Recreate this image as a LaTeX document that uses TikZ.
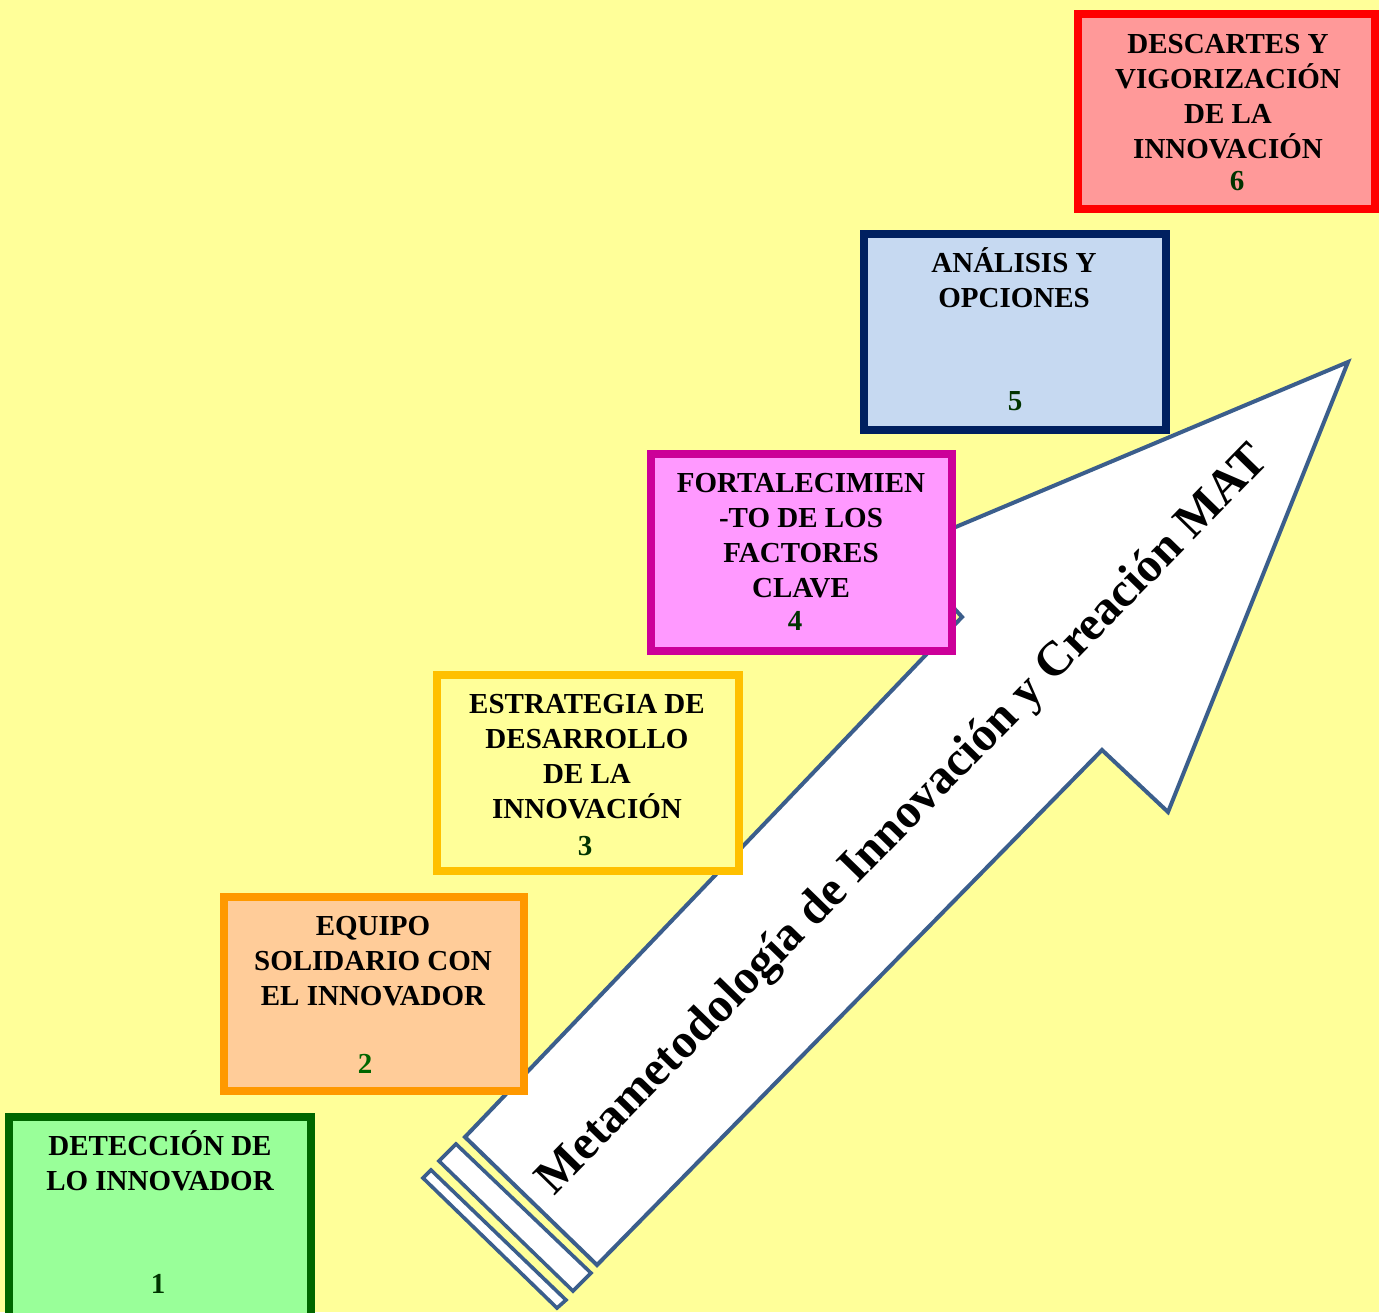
\documentclass[tikz,border=0pt]{standalone}
\usepackage{fontspec}
\setmainfont{Liberation Serif}
\definecolor{bg}{HTML}{FFFF99}
\definecolor{arrowblue}{HTML}{3B5E8C}
\definecolor{numdark}{HTML}{003300}
\definecolor{numgreen}{HTML}{006600}
\definecolor{bdA}{HTML}{006600}\definecolor{fiA}{HTML}{99FF99}
\definecolor{bdB}{HTML}{FF9900}\definecolor{fiB}{HTML}{FFCC99}
\definecolor{bdC}{HTML}{FFC000}\definecolor{fiC}{HTML}{FFFF99}
\definecolor{bdD}{HTML}{CC0099}\definecolor{fiD}{HTML}{FF99FF}
\definecolor{bdE}{HTML}{002060}\definecolor{fiE}{HTML}{C6D9F1}
\definecolor{bdF}{HTML}{FF0000}\definecolor{fiF}{HTML}{FF9999}
\newcommand{\firstln}{\rule{0pt}{1em}}
\begin{document}
\begin{tikzpicture}[x=0.5pt,y=-0.5pt,
  stepbox/.style={rectangle, line width=4.2pt, inner sep=0pt, outer sep=0pt},
  title/.style={font=\fontsize{14.5}{17.5}\selectfont\bfseries, align=center, inner sep=0pt, anchor=north},
  num/.style={font=\fontsize{14.5}{17.5}\selectfont\bfseries, inner sep=0pt, anchor=base, text=numdark},
  arr/.style={draw=arrowblue, line width=2pt, fill=white, line join=miter},
  strip/.style={draw=arrowblue, line width=1.8pt, fill=white, line join=miter}]
\useasboundingbox (0,0) rectangle (1379,1312);
\fill[bg] (0,0) rectangle (1379,1312);
\clip (0,0) rectangle (1379,1312);

% arrow
\coordinate (s2a) at (431,1170);
\coordinate (s2b) at (423,1178);
\coordinate (s2c) at (557,1308);
\coordinate (s2d) at (566,1300);
\draw[strip] (s2a) -- (s2b) -- (s2c) -- (s2d) -- cycle;
\coordinate (s1a) at (456,1144);
\coordinate (s1b) at (439,1161);
\coordinate (s1c) at (573,1291);
\coordinate (s1d) at (591,1273);
\draw[strip] (s1a) -- (s1b) -- (s1c) -- (s1d) -- cycle;
\coordinate (pa) at (465,1137);
\coordinate (pb) at (962,617);
\coordinate (pc) at (901,550);
\coordinate (pd) at (1348,362);
\coordinate (pe) at (1168,812);
\coordinate (pf) at (1102,750);
\coordinate (pg) at (597,1265);
\draw[arr] (pa) -- (pb) -- (pc) -- (pd) -- (pe) -- (pf) -- (pg) -- cycle;
\node[font=\fontsize{24.3}{28}\selectfont\bfseries, rotate=45.7, inner sep=0pt] (mat) at (904,821) {Metametodología de Innovación y Creación MAT};

% boxes
\node[stepbox, draw=bdA, fill=fiA, minimum width=151pt, minimum height=101.5pt] (b1) at (160,1218.5) {};
\node[stepbox, draw=bdB, fill=fiB, minimum width=150pt, minimum height=97pt] (b2) at (374,994) {};
\node[stepbox, draw=bdC, fill=fiC, minimum width=151pt, minimum height=98pt] (b3) at (588,773) {};
\node[stepbox, draw=bdD, fill=fiD, minimum width=150.5pt, minimum height=98.5pt] (b4) at (801.5,552.5) {};
\node[stepbox, draw=bdE, fill=fiE, minimum width=151pt, minimum height=98pt] (b5) at (1015,332) {};
\node[stepbox, draw=bdF, fill=fiF, minimum width=148.5pt, minimum height=97.5pt] (b6) at (1226.5,111.5) {};

% titles
\node[title] (t1) at (160,1126) {\firstln DETECCIÓN DE\\LO INNOVADOR};
\node[title] (t2) at (373,906) {\firstln EQUIPO\\SOLIDARIO CON\\EL INNOVADOR};
\node[title] (t3) at (587,684) {\firstln ESTRATEGIA DE\\DESARROLLO\\DE LA\\INNOVACIÓN};
\node[title] (t4) at (801,463) {\firstln FORTALECIMIEN\\-TO DE LOS\\FACTORES\\CLAVE};
\node[title] (t5) at (1014,243) {\firstln ANÁLISIS Y\\OPCIONES};
\node[title] (t6) at (1228,24) {\firstln DESCARTES Y\\VIGORIZACIÓN\\DE LA\\INNOVACIÓN};

% numbers
\node[num] (n1) at (158,1293) {1};
\node[num, text=numgreen] (n2) at (365,1073) {2};
\node[num] (n3) at (585,855) {3};
\node[num] (n4) at (795,630) {4};
\node[num] (n5) at (1015,410) {5};
\node[num] (n6) at (1237,190) {6};
\end{tikzpicture}
\end{document}
